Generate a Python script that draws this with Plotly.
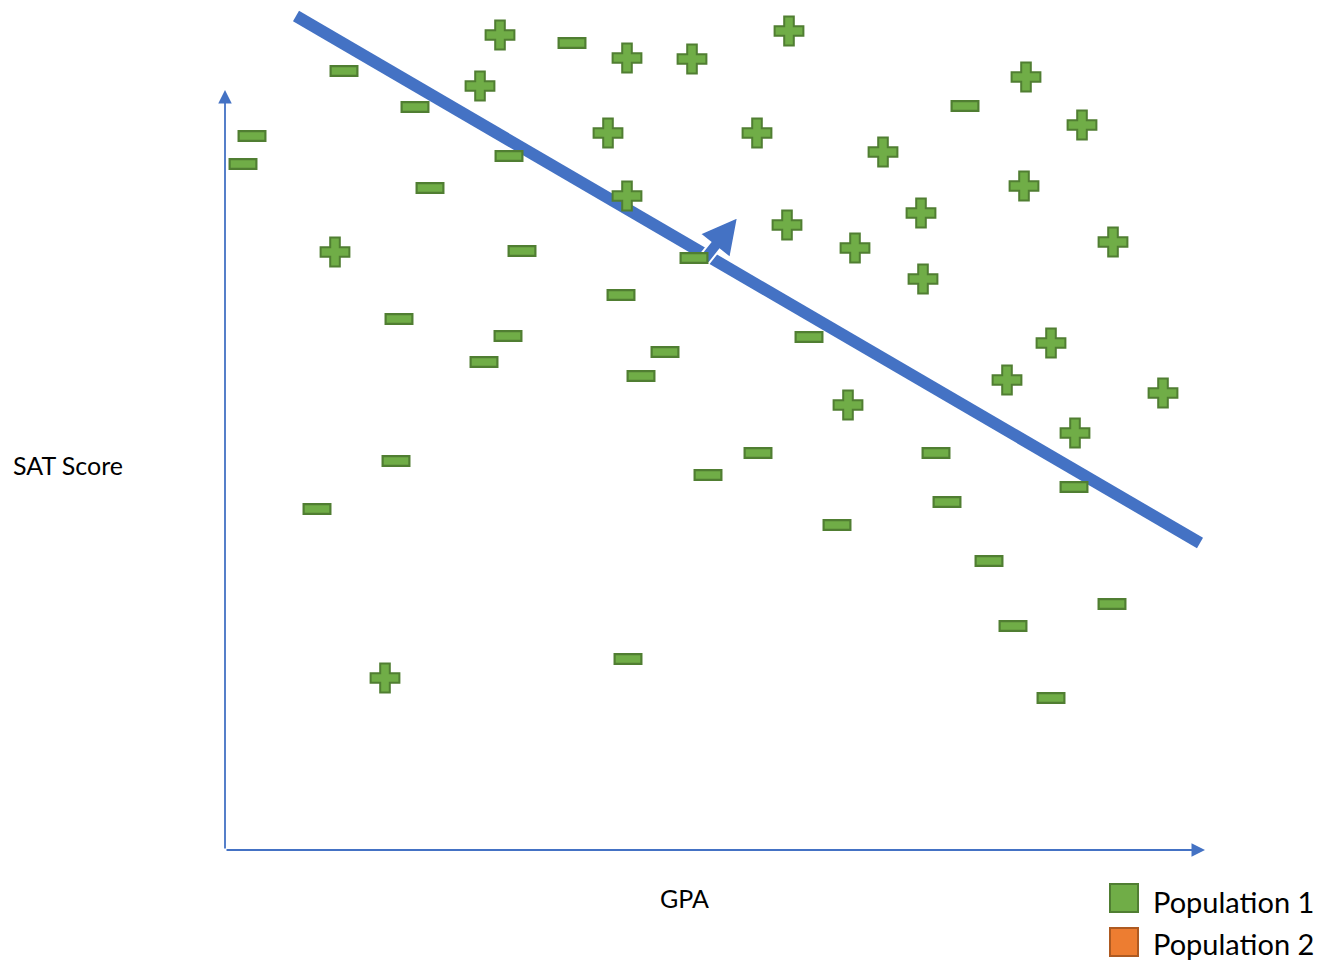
import numpy as np
import plotly.graph_objects as go

W, H = 1323, 963

# Points (pixel-like coordinates, y downward)
plus_x = [500, 627, 692, 789, 480, 1026, 1082, 608, 757, 883, 627, 1024, 921, 787, 855, 1113, 923, 335, 1051, 1007, 1163, 848, 1075, 385]
plus_y = [35, 58, 59, 31, 86, 77, 125, 133, 133, 152, 196, 186, 213, 225, 248, 242, 279, 252, 343, 380, 393, 405, 433, 678]

minus_x = [572, 344, 415, 252, 243, 509, 430, 965, 522, 694, 621, 399, 508, 665, 484, 641, 809, 396, 317, 758, 708, 936, 947, 837, 1074, 989, 1013, 1112, 628, 1051]
minus_y = [43, 71, 107, 136, 164, 156, 188, 106, 251, 258, 295, 319, 336, 352, 362, 376, 337, 461, 509, 453, 475, 453, 502, 525, 487, 561, 626, 604, 659, 698]

# Decision boundary endpoints and normal arrow
boundary_x = [296, 1200]
boundary_y = [16, 543]
arrow_tip = (738, 217)

# Axes
origin = (225, 850)
x_axis_end = (1205, 850)
y_axis_end = (225, 90)

x_label = "GPA"
y_label = "SAT Score"
legend_labels = ["Population 1", "Population 2"]
legend_fill = ["#70AD47", "#ED7D31"]
legend_edge = ["#507E32", "#AE5A21"]

GREEN = "#70AD47"
DGREEN = "#507E32"
BLUE = "#4472C4"
FONT = "Lato"

fig = go.Figure()

# boundary line
fig.add_trace(go.Scatter(x=boundary_x, y=boundary_y, mode="lines",
                         line=dict(color=BLUE, width=12), hoverinfo="skip"))

# normal arrow polygon
tx, ty = arrow_tip
u = np.array([0.62, -0.78]); u = u / np.linalg.norm(u)
p = np.array([-u[1], u[0]])
T = np.array([tx, ty])
B = T - 37 * u
S = B - 18 * u
hw, sw = 19.5, 6
poly = [T, B + hw * p, B + sw * p, S + sw * p, S - sw * p, B - sw * p, B - hw * p, T]
fig.add_trace(go.Scatter(x=[q[0] for q in poly], y=[q[1] for q in poly], mode="lines",
                         fill="toself", fillcolor=BLUE, line=dict(color="white", width=2),
                         hoverinfo="skip"))

# plus markers
fig.add_trace(go.Scatter(x=plus_x, y=plus_y, mode="markers",
                         marker=dict(symbol="cross", size=24, color=GREEN,
                                     line=dict(color=DGREEN, width=2)), hoverinfo="skip"))

# minus markers (outer dark + inner light)
fig.add_trace(go.Scatter(x=minus_x, y=minus_y, mode="markers",
                         marker=dict(symbol="line-ew", size=20.7, color=DGREEN,
                                     line=dict(color=DGREEN, width=12)), hoverinfo="skip"))
fig.add_trace(go.Scatter(x=minus_x, y=minus_y, mode="markers",
                         marker=dict(symbol="line-ew", size=17.6, color=GREEN,
                                     line=dict(color=GREEN, width=7.5)), hoverinfo="skip"))

# legend squares
fig.add_trace(go.Scatter(x=[1124, 1124], y=[898, 942], mode="markers",
                         marker=dict(symbol="square", size=28, color=legend_fill,
                                     line=dict(color=legend_edge, width=2)), hoverinfo="skip"))

annotations = []
# axis arrows
for end in (x_axis_end, y_axis_end):
    annotations.append(dict(x=end[0], y=end[1], ax=origin[0], ay=origin[1],
                            xref="x", yref="y", axref="x", ayref="y", text="",
                            showarrow=True, arrowhead=2, arrowsize=1.5, arrowwidth=1.8,
                            arrowcolor=BLUE))
annotations.append(dict(x=11, y=465, xref="x", yref="y", text=y_label, showarrow=False,
                        xanchor="left", yanchor="middle", font=dict(family=FONT, size=25, color="black")))
annotations.append(dict(x=684, y=898, xref="x", yref="y", text=x_label, showarrow=False,
                        xanchor="center", yanchor="middle", font=dict(family=FONT, size=25, color="black")))
for lbl, yy in zip(legend_labels, [901, 943]):
    annotations.append(dict(x=1151, y=yy, xref="x", yref="y", text=lbl, showarrow=False,
                            xanchor="left", yanchor="middle", font=dict(family=FONT, size=29, color="black")))

fig.update_layout(
    width=W, height=H, margin=dict(l=0, r=0, t=0, b=0),
    plot_bgcolor="white", paper_bgcolor="white", showlegend=False,
    xaxis=dict(range=[0, W], visible=False, fixedrange=True),
    yaxis=dict(range=[H, 0], visible=False, fixedrange=True),
    annotations=annotations,
)

fig.write_html("out.html", config={"displayModeBar": False},
               post_script="document.body.style.margin='0';")
